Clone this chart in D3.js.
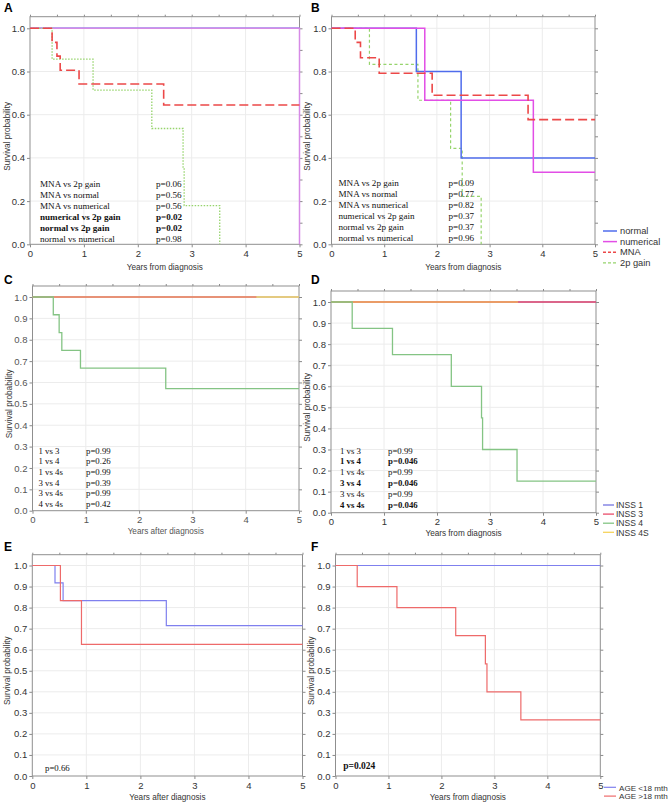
<!DOCTYPE html>
<html><head><meta charset="utf-8">
<script src="https://cdn.jsdelivr.net/npm/d3@7"></script>
<style>body{margin:0;background:#fff} svg{display:block}</style>
</head><body>
<svg id="c" width="669" height="806"></svg>
<script>
// ---------- DATA ----------
const xTicks = [0, 1, 2, 3, 4, 5];
const yTicksAB = [0, 0.2, 0.4, 0.6, 0.8, 1.0];
const yTicksCDEF = [0, 0.1, 0.2, 0.3, 0.4, 0.5, 0.6, 0.7, 0.8, 0.9, 1.0];

// Panel A (time in years, survival probability)
const aNormalT = [0, 5],  aNormalS = [1, 1];
const aNumT = [0, 5, 5],  aNumS = [1, 1, 0];
const aMnaT = [0, 0.41, 0.50, 0.56, 0.91, 2.48, 5];
const aMnaS = [1, 0.935, 0.871, 0.806, 0.742, 0.645, 0.645];
const a2pT = [0, 0.41, 1.17, 2.26, 2.84, 2.86, 3.52];
const a2pS = [1, 0.857, 0.714, 0.536, 0.357, 0.179, 0];

// Panel B
const bNormalT = [0, 1.61, 2.46, 5], bNormalS = [1, 0.8, 0.4, 0.4];
const bNumT = [0, 1.77, 3.83, 5],    bNumS = [1, 0.667, 0.333, 0.333];
const bMnaT = [0, 0.45, 0.55, 0.905, 1.91, 3.73, 5];
const bMnaS = [1, 0.935, 0.864, 0.792, 0.69, 0.577, 0.577];
const b2pT = [0, 0.72, 1.64, 2.26, 2.48, 2.84];
const b2pS = [1, 0.833, 0.667, 0.444, 0.222, 0];

// Panel C
const cInss1T = [0, 5], cInss1S = [1, 1];
const cInss3T = [0, 4.2], cInss3S = [1, 1];
const cInss4T = [0, 0.39, 0.50, 0.55, 0.90, 2.5, 5];
const cInss4S = [1, 0.917, 0.833, 0.75, 0.667, 0.571, 0.571];
const cInss4sT = [0, 5], cInss4sS = [1, 1];

// Panel D
const dInss1T = [0, 5], dInss1S = [1, 1];
const dInss3T = [0, 5], dInss3S = [1, 1];
const dInss4T = [0, 0.40, 1.16, 2.27, 2.84, 2.86, 3.51, 5];
const dInss4S = [1, 0.875, 0.75, 0.6, 0.45, 0.3, 0.15, 0.15];
const dInss4sT = [0, 3.53], dInss4sS = [1, 1];

// Panel E
const eYoungT = [0, 0.42, 0.57, 2.48, 5], eYoungS = [1, 0.917, 0.833, 0.714, 0.714];
const eOldT = [0, 0.52, 0.91, 5],         eOldS = [1, 0.833, 0.625, 0.625];

// Panel F
const fYoungT = [0, 5], fYoungS = [1, 1];
const fOldT = [0, 0.41, 1.16, 2.27, 2.83, 2.86, 3.50, 5];
const fOldS = [1, 0.9, 0.8, 0.667, 0.533, 0.4, 0.267, 0.267];

// Comparison tables
const compAB = ["MNA vs 2p gain", "MNA vs normal", "MNA vs numerical", "numerical vs 2p gain", "normal vs 2p gain", "normal vs numerical"];
const pA = ["p=0.06", "p=0.56", "p=0.56", "p=0.02", "p=0.02", "p=0.98"];
const boldA = [0, 0, 0, 1, 1, 0];
const pB = ["p=0.09", "p=0.77", "p=0.82", "p=0.37", "p=0.37", "p=0.96"];
const boldB = [0, 0, 0, 0, 0, 0];
const compCD = ["1 vs 3", "1 vs 4", "1 vs 4s", "3 vs 4", "3 vs 4s", "4 vs 4s"];
const pC = ["p=0.99", "p=0.26", "p=0.99", "p=0.39", "p=0.99", "p=0.42"];
const boldC = [0, 0, 0, 0, 0, 0];
const pD = ["p=0.99", "p=0.046", "p=0.99", "p=0.046", "p=0.99", "p=0.046"];
const boldD = [0, 1, 0, 1, 0, 1];
const pE = "p=0.66";
const pF = "p=0.024";

// Legends
const legB = ["normal", "numerical", "MNA", "2p gain"];
const legD = ["INSS 1", "INSS 3", "INSS 4", "INSS 4S"];
const legF = ["AGE <18 mth", "AGE >18 mth"];

// ---------- STYLES ----------
const stNormal = {c: "#4f6cec", w: 1.5};
const stNum = {c: "#e24ee6", w: 1.5};
const stMna = {c: "#ec4848", w: 1.6, dash: "9,4"};
const st2pA = {c: "#96d46c", w: 1.3, dash: "1.5,1.5"};
const st2pB = {c: "#96d46c", w: 1.2, dash: "3,2.5"};
const stI1 = {c: "#6a6ade", w: 1.2};
const stI3 = {c: "#ea4d6a", w: 1.3};
const stI4 = {c: "#84c484", w: 1.3};
const stI4s = {c: "#f6d35c", w: 1.3};
const stYoung = {c: "#7f80ee", w: 1.2};
const stOld = {c: "#ee6a6a", w: 1.2};

const svg = d3.select("#c");
const SANS = "'Liberation Sans', Arial, sans-serif";
const SERIF = "'Liberation Serif', 'Times New Roman', serif";

function drawPanel(p) {
  const g = svg.append("g");
  const x = d3.scaleLinear().domain([0, 5]).range([p.left, p.right]);
  const y = d3.scaleLinear().domain([0, 1]).range([p.y0, p.y1]);

  // grid
  g.append("g").selectAll("line").data(xTicks.slice(1, -1)).join("line")
    .attr("x1", d => x(d)).attr("x2", d => x(d)).attr("y1", p.top).attr("y2", p.y0)
    .attr("stroke", "#ececec").attr("stroke-width", 1);
  g.append("g").selectAll("line").data(p.yTicks.slice(1)).join("line")
    .attr("x1", p.left).attr("x2", p.right).attr("y1", d => y(d)).attr("y2", d => y(d))
    .attr("stroke", "#ececec").attr("stroke-width", 1);

  // axes
  const fmtY = d3.format(".1f");
  const ax = g.append("g").attr("transform", `translate(0,${p.y0})`)
    .call(d3.axisBottom(x).tickValues(xTicks).tickSize(3).tickPadding(3).tickFormat(d3.format("d")));
  const ay = g.append("g").attr("transform", `translate(${p.left},0)`)
    .call(d3.axisLeft(y).tickValues(p.yTicks).tickSize(3).tickPadding(2).tickFormat(fmtY));
  const ar = g.append("g").attr("transform", `translate(${p.right},0)`)
    .call(d3.axisRight(y).tickValues(yTicksCDEF).tickSize(3).tickFormat(""));
  const at = g.append("g").attr("transform", `translate(0,${p.top})`)
    .call(d3.axisTop(x).tickValues([0, 0.5, 1, 1.5, 2, 2.5, 3, 3.5, 4, 4.5, 5]).tickSize(2).tickFormat(""));
  [ax, ay, ar, at].forEach(a => {
    a.select(".domain").remove();
    a.selectAll("line").attr("stroke", "#8a8a8a");
    a.selectAll("text").attr("font-family", SANS).attr("font-size", 9.5).attr("fill", p.tickColor || "#333");
  });

  // frame
  g.append("rect").attr("x", p.left).attr("y", p.top)
    .attr("width", p.right - p.left).attr("height", p.y0 - p.top)
    .attr("fill", "none").attr("stroke", "#8f8f8f").attr("stroke-width", 1);

  // titles
  g.append("text").attr("x", (p.left + p.right) / 2).attr("y", p.xlabY)
    .attr("text-anchor", "middle").attr("font-family", SANS).attr("font-size", 8.2)
    .attr("fill", p.tickColor || "#333").text(p.xlab);
  g.append("text").attr("transform", `translate(${p.ylabX},${(p.y0 + p.y1) / 2}) rotate(-90)`)
    .attr("text-anchor", "middle").attr("font-family", SANS).attr("font-size", 8.2)
    .attr("fill", "#333").text("Survival probability");
  g.append("text").attr("x", p.letterX).attr("y", p.letterY)
    .attr("font-family", SANS).attr("font-size", 12).attr("font-weight", "bold")
    .attr("fill", "#000").text(p.letter);

  // curves
  const line = d3.line().x(d => x(d[0])).y(d => y(d[1])).curve(d3.curveStepAfter);
  p.series.forEach(s => {
    g.append("path").datum(d3.zip(s.t, s.s)).attr("d", line)
      .attr("fill", "none").attr("stroke", s.st.c).attr("stroke-width", s.st.w)
      .attr("stroke-dasharray", s.st.dash || null)
      .attr("stroke-opacity", s.op == null ? 1 : s.op);
  });

  // table
  if (p.comp) {
    p.comp.forEach((c, i) => {
      const yy = p.ty0 + i * p.tdy;
      const fw = p.bold[i] ? "bold" : "normal";
      g.append("text").attr("x", p.tx).attr("y", yy).attr("font-family", SERIF)
        .attr("font-size", p.tfs).attr("font-weight", fw).attr("fill", "#111").text(c);
      g.append("text").attr("x", p.px).attr("y", yy).attr("font-family", SERIF)
        .attr("font-size", p.tfs).attr("font-weight", fw).attr("fill", "#111").text(p.pv[i]);
    });
  }
  if (p.single) {
    g.append("text").attr("x", p.single.x).attr("y", p.single.y).attr("font-family", SERIF)
      .attr("font-size", p.single.fs).attr("font-weight", p.single.bold ? "bold" : "normal")
      .attr("fill", "#111").text(p.single.text);
  }

  // legend
  if (p.legend) {
    p.legend.items.forEach((lab, i) => {
      const yy = p.legend.y0 + i * p.legend.dy;
      const st = p.legend.styles[i];
      g.append("line").attr("x1", p.legend.x1).attr("x2", p.legend.x2)
        .attr("y1", yy).attr("y2", yy).attr("stroke", st.c).attr("stroke-width", st.w)
        .attr("stroke-dasharray", st.dash ? "3,2" : null);
      g.append("text").attr("x", p.legend.tx).attr("y", yy + 3.2)
        .attr("font-family", SANS).attr("font-size", p.legend.fs).attr("fill", "#333").text(lab);
    });
  }
}

drawPanel({
  letter: "A", letterX: 4, letterY: 12,
  left: 30, right: 299.5, top: 16.7, y1: 28.3, y0: 244.3, yTicks: yTicksAB,
  xlab: "Years from diagnosis", xlabY: 270, ylabX: 10,
  series: [
    {t: aNormalT, s: aNormalS, st: stNormal},
    {t: aNumT, s: aNumS, st: {c: "#d68ae6", w: 1.5}},
    {t: a2pT, s: a2pS, st: st2pA},
    {t: aMnaT, s: aMnaS, st: stMna}
  ],
  comp: compAB, pv: pA, bold: boldA, tx: 40, px: 156, ty0: 186.8, tdy: 11.1, tfs: 9.1
});

drawPanel({
  letter: "B", letterX: 311, letterY: 12,
  left: 331.5, right: 595, top: 16.7, y1: 28.3, y0: 244.3, yTicks: yTicksAB,
  xlab: "Years from diagnosis", xlabY: 270, ylabX: 310,
  series: [
    {t: b2pT, s: b2pS, st: st2pB},
    {t: bNormalT, s: bNormalS, st: stNormal},
    {t: bNumT, s: bNumS, st: stNum},
    {t: bMnaT, s: bMnaS, st: stMna}
  ],
  comp: compAB, pv: pB, bold: boldB, tx: 338.5, px: 448.5, ty0: 186.2, tdy: 11, tfs: 9.1,
  legend: {items: legB, styles: [stNormal, stNum, stMna, st2pB], x1: 603, x2: 617, tx: 620,
           y0: 231, dy: 10.6, fs: 9.3}
});

drawPanel({
  letter: "C", letterX: 4, letterY: 284,
  left: 32.5, right: 299, top: 286, y1: 297, y0: 510.7, yTicks: yTicksCDEF,
  xlab: "Years after diagnosis", xlabY: 534, ylabX: 12, tickColor: "#555",
  series: [
    {t: cInss1T, s: cInss1S, st: stI1},
    {t: cInss4sT, s: cInss4sS, st: stI4s},
    {t: cInss3T, s: cInss3S, st: stI3, op: 0.6},
    {t: cInss4T, s: cInss4S, st: stI4}
  ],
  comp: compCD, pv: pC, bold: boldC, tx: 38.5, px: 86, ty0: 453.5, tdy: 10.7, tfs: 8.8
});

drawPanel({
  letter: "D", letterX: 311, letterY: 284,
  left: 331, right: 596, top: 291, y1: 302, y0: 512.7, yTicks: yTicksCDEF,
  xlab: "Years from diagnosis", xlabY: 536, ylabX: 310,
  series: [
    {t: dInss1T, s: dInss1S, st: stI1},
    {t: dInss3T, s: dInss3S, st: stI3},
    {t: dInss4sT, s: dInss4sS, st: {c: "#f7c84e", w: 1.3}, op: 0.75},
    {t: dInss4T, s: dInss4S, st: stI4}
  ],
  comp: compCD, pv: pD, bold: boldD, tx: 340, px: 388, ty0: 453.5, tdy: 10.8, tfs: 8.8,
  legend: {items: legD, styles: [stI1, stI3, stI4, stI4s], x1: 603, x2: 614, tx: 616,
           y0: 505, dy: 9.1, fs: 8.5}
});

drawPanel({
  letter: "E", letterX: 4, letterY: 551,
  left: 32.3, right: 302.5, top: 554.7, y1: 565.5, y0: 776, yTicks: yTicksCDEF,
  xlab: "Years after diagnosis", xlabY: 800, ylabX: 10,
  series: [
    {t: eYoungT, s: eYoungS, st: stYoung},
    {t: eOldT, s: eOldS, st: stOld}
  ],
  single: {text: pE, x: 45, y: 771, bold: false, fs: 8.8}
});

drawPanel({
  letter: "F", letterX: 311, letterY: 551,
  left: 335.5, right: 600.3, top: 554.7, y1: 565.5, y0: 776, yTicks: yTicksCDEF,
  xlab: "Years from diagnosis", xlabY: 800, ylabX: 314,
  series: [
    {t: fYoungT, s: fYoungS, st: stYoung},
    {t: fOldT, s: fOldS, st: stOld}
  ],
  single: {text: pF, x: 343.3, y: 769, bold: true, fs: 9.5},
  legend: {items: legF, styles: [stYoung, stOld], x1: 604, x2: 616, tx: 619,
           y0: 787.3, dy: 8.8, fs: 8.1}
});
</script>
</body></html>
